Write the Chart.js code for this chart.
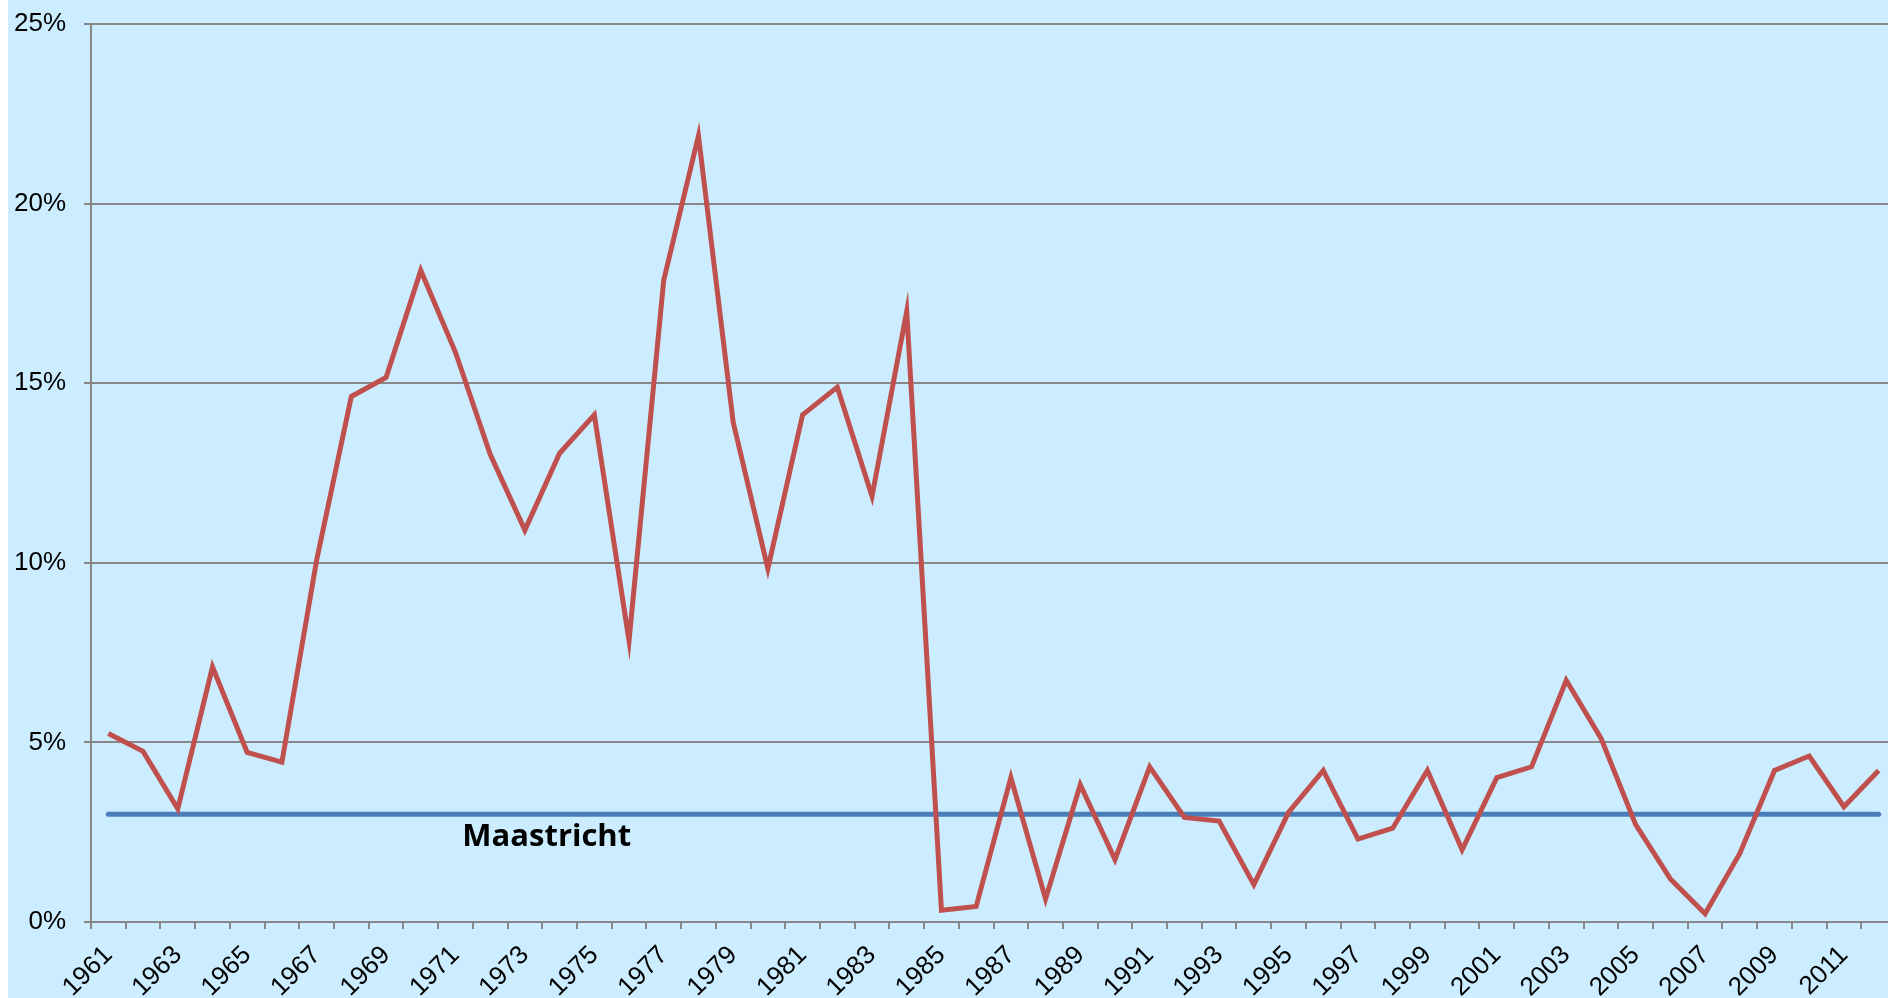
<!DOCTYPE html>
<html>
<head>
<meta charset="utf-8">
<title>Inflatie 1961-2012</title>
<script src="https://cdn.jsdelivr.net/npm/chart.js@4.4.1/dist/chart.umd.min.js"></script>
<style>
    html, body { margin: 0; padding: 0; background: #ffffff; overflow: hidden; }
    #wrap {
        position: absolute;
        left: 8px;
        top: 0;
        width: 1888px;
        height: 998px;
        background: #CCECFF;
    }
    canvas { display: block; }
</style>
</head>
<body>
<div id="wrap">
    <canvas id="chart" width="1888" height="998"></canvas>
</div>
<script>
// jaren (categorieën)
const years = [
    '1961', '1962', '1963', '1964', '1965', '1966', '1967', '1968', '1969', '1970',
    '1971', '1972', '1973', '1974', '1975', '1976', '1977', '1978', '1979', '1980',
    '1981', '1982', '1983', '1984', '1985', '1986', '1987', '1988', '1989', '1990',
    '1991', '1992', '1993', '1994', '1995', '1996', '1997', '1998', '1999', '2000',
    '2001', '2002', '2003', '2004', '2005', '2006', '2007', '2008', '2009', '2010',
    '2011', '2012'
];

const values = [
    5.25, 4.75, 3.15, 7.1, 4.72, 4.45, 10.07, 14.63, 15.16, 18.14,
    15.86, 13.02, 10.91, 13.05, 14.12, 7.83, 17.87, 21.89, 13.92, 9.84,
    14.12, 14.89, 11.85, 17.0, 0.33, 0.43, 4.02, 0.64, 3.82, 1.74,
    4.32, 2.91, 2.81, 1.04, 3.05, 4.22, 2.31, 2.61, 4.22, 2.01,
    4.02, 4.32, 6.73, 5.12, 2.71, 1.2, 0.23, 1.91, 4.22, 4.62,
    3.21, 4.22
];

// Maastricht-norm
const maastrichtNorm = 3;
const maastrichtLabel = 'Maastricht';
const maastrichtLabelYear = 12.63; // positie van het label (index in years)

const yTicks = [0, 5, 10, 15, 20, 25];

const tickFont = { family: "'Liberation Sans', Arial, sans-serif", size: 26 };

// tekst onder de Maastricht-lijn
const maastrichtText = {
    id: 'maastrichtText',
    afterDatasetsDraw(chart) {
        const { ctx, scales } = chart;
        const i = Math.floor(maastrichtLabelYear);
        const frac = maastrichtLabelYear - i;
        const x0 = scales.x.getPixelForValue(i);
        const x1 = scales.x.getPixelForValue(i + 1);
        const x = x0 + (x1 - x0) * frac;
        const y = scales.y.getPixelForValue(maastrichtNorm);
        ctx.save();
        ctx.font = "bold 31px 'Open Sans', sans-serif";
        ctx.fillStyle = '#000000';
        ctx.textAlign = 'center';
        ctx.textBaseline = 'alphabetic';
        ctx.fillText(maastrichtLabel, x, y + 32);
        ctx.restore();
    }
};

new Chart(document.getElementById('chart'), {
    type: 'line',
    data: {
        labels: years,
        datasets: [
            {
                label: 'Maastricht',
                data: years.map(() => maastrichtNorm),
                borderColor: '#4A7EBB',
                borderWidth: 5,
                borderCapStyle: 'round',
                pointRadius: 0,
                tension: 0,
                order: 2
            },
            {
                label: 'Inflatie',
                data: values,
                borderColor: '#C0504D',
                borderWidth: 5,
                borderJoinStyle: 'miter',
                pointRadius: 0,
                tension: 0,
                order: 1
            }
        ]
    },
    options: {
        responsive: false,
        animation: false,
        devicePixelRatio: 1,
        layout: { padding: { top: 24, right: 0, bottom: 0, left: 0 } },
        plugins: {
            legend: { display: false },
            tooltip: { enabled: false }
        },
        scales: {
            x: {
                type: 'category',
                offset: true,
                grid: {
                    offset: true,
                    drawOnChartArea: false,
                    drawTicks: true,
                    tickLength: 7,
                    color: '#878787',
                    lineWidth: 2
                },
                border: { display: true, color: '#878787', width: 2 },
                ticks: {
                    autoSkip: false,
                    minRotation: 45,
                    maxRotation: 45,
                    padding: 11,
                    color: '#000000',
                    font: tickFont,
                    callback: function (value, index) {
                        return index % 2 === 0 ? this.getLabelForValue(value) : '';
                    }
                },
                afterFit(scale) {
                    scale.height = 76;
                    scale.paddingLeft = 0;
                    scale.paddingRight = 0;
                }
            },
            y: {
                min: 0,
                max: 25,
                afterBuildTicks(scale) {
                    scale.ticks = yTicks.map(v => ({ value: v }));
                },
                grid: {
                    color: '#878787',
                    lineWidth: 2,
                    tickLength: 7
                },
                border: { display: true, color: '#878787', width: 2 },
                ticks: {
                    padding: 18,
                    color: '#000000',
                    font: tickFont,
                    callback: v => v + '%'
                },
                afterFit(scale) {
                    scale.width = 83;
                    scale.paddingTop = 0;
                    scale.paddingBottom = 0;
                }
            }
        }
    },
    plugins: [maastrichtText]
});
</script>
</body>
</html>
